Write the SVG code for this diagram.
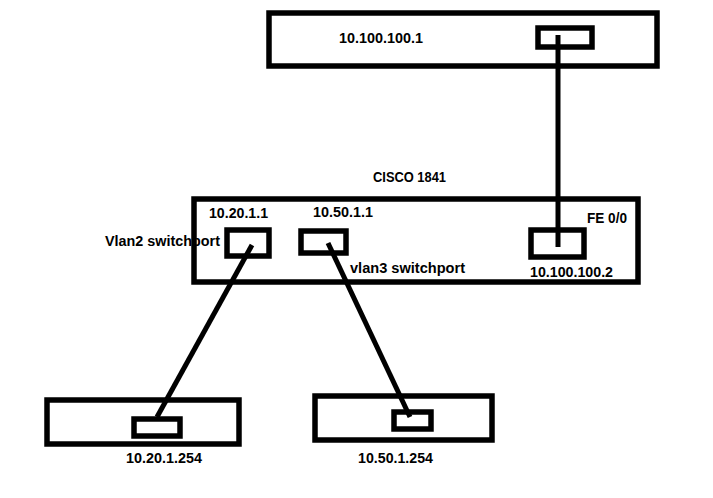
<svg xmlns="http://www.w3.org/2000/svg" width="713" height="498" viewBox="0 0 713 498">
<style>
.box{fill:none;stroke:#000;stroke-width:5.5}
.ln{stroke:#000;stroke-width:5;fill:none}
.t{font-family:"Liberation Sans",Arial,sans-serif;font-weight:bold;font-size:14px;fill:#000}
</style>
<rect width="713" height="498" fill="#fff"/>
<g id="labels-bg">
<text class="t" x="105" y="246" textLength="115" lengthAdjust="spacingAndGlyphs">Vlan2 switchport</text>
</g>
<g id="server-top">
<rect class="box" x="269" y="13" width="388" height="53"/>
<rect class="box" x="538" y="28" width="54" height="19"/>
<text class="t" x="339" y="43" textLength="84" lengthAdjust="spacingAndGlyphs">10.100.100.1</text>
</g>
<g id="router">
<text class="t" x="373" y="182" textLength="73" lengthAdjust="spacingAndGlyphs">CISCO 1841</text>
<rect class="box" x="194" y="199" width="444" height="83"/>
<g id="port-vlan2">
<rect class="box" x="227" y="230" width="42" height="26"/>
<text class="t" x="209" y="218" textLength="59" lengthAdjust="spacingAndGlyphs">10.20.1.1</text>
</g>
<g id="port-vlan3">
<rect class="box" x="301" y="231" width="45" height="22"/>
<text class="t" x="313" y="217" textLength="60" lengthAdjust="spacingAndGlyphs">10.50.1.1</text>
<text class="t" x="350" y="273" textLength="115" lengthAdjust="spacingAndGlyphs">vlan3 switchport</text>
</g>
<g id="port-fe00">
<rect class="box" x="531" y="230" width="53" height="27"/>
<text class="t" x="587" y="223" textLength="40" lengthAdjust="spacingAndGlyphs">FE 0/0</text>
<text class="t" x="530" y="277" textLength="83" lengthAdjust="spacingAndGlyphs">10.100.100.2</text>
</g>
</g>
<g id="host-vlan2">
<rect class="box" x="47" y="400" width="192" height="44"/>
<rect class="box" x="134" y="419" width="46" height="17"/>
<text class="t" x="126" y="463" textLength="76" lengthAdjust="spacingAndGlyphs">10.20.1.254</text>
</g>
<g id="host-vlan3">
<rect class="box" x="315" y="396" width="177" height="44"/>
<rect class="box" x="394" y="412" width="37" height="17"/>
<text class="t" x="358" y="463" textLength="75" lengthAdjust="spacingAndGlyphs">10.50.1.254</text>
</g>
<g id="connectors">
<line class="ln" x1="558" y1="35" x2="558" y2="247"/>
<line class="ln" x1="252" y1="245" x2="157" y2="417"/>
<line class="ln" x1="328" y1="243" x2="410" y2="417"/>
</g>
</svg>
